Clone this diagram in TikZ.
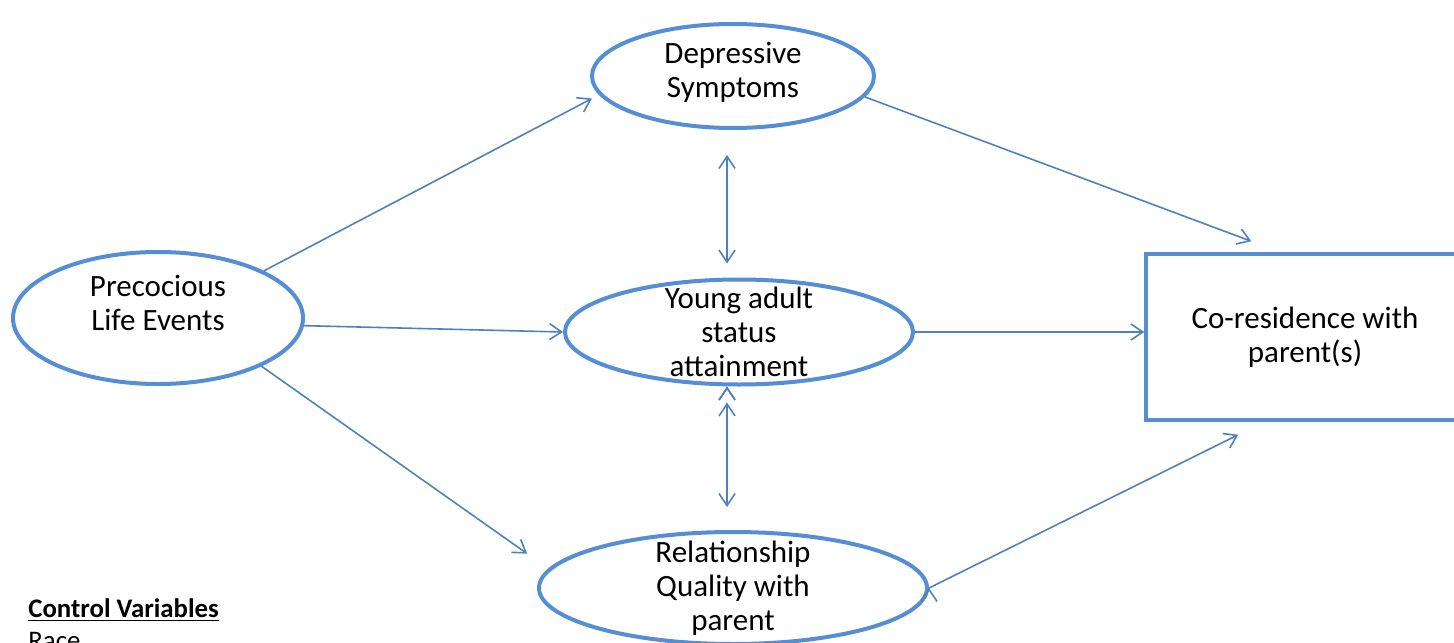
\documentclass[tikz,border=0pt]{standalone}
\usepackage{fontspec}
\setmainfont{Carlito}
\usetikzlibrary{arrows.meta,shapes.geometric,positioning}
\definecolor{ovalblue}{RGB}{85,142,213}
\definecolor{lineblue}{RGB}{79,129,189}

\begin{document}
\begin{tikzpicture}[x=0.5pt,y=-0.5pt,
	oval/.style={ellipse,draw=ovalblue,line width=2pt,inner sep=0pt},
	inner/.style={align=center,font=\fontsize{15.5}{17}\selectfont},
	conn/.style={draw=lineblue,line width=0.8pt,-{Straight Barb[length=6pt,width=8pt]}},
	both/.style={conn,{Straight Barb[length=6pt,width=8pt]}-{Straight Barb[length=6pt,width=8pt]}}]
	\useasboundingbox (0,0) rectangle (1454,642);
	\clip (0,0) rectangle (1454,642);
	% the five variables
	\node[oval,minimum width=145pt,minimum height=66pt,label={[inner,yshift=7.5pt]center:Precocious\\Life Events}] (prec) at (158,318) {};
	\node[oval,minimum width=141pt,minimum height=52pt,label={[inner,yshift=2pt]center:Depressive\\Symptoms}] (dep) at (733,76) {};
	\node[oval,minimum width=174pt,minimum height=52.5pt,label={[inner]center:Young adult\\status\\attainment}] (young) at (739,332) {};
	\node[oval,minimum width=194pt,minimum height=56pt,label={[inner]center:Relationship\\Quality with\\parent}] (rel) at (733,588) {};
	\node[draw=ovalblue,line width=1.75pt,minimum width=159pt,minimum height=83pt,inner] (co) at (1305,337) {Co-residence with\\parent(s)};
	\node[anchor=north west,align=left,inner sep=0pt,font=\fontsize{13.4}{16}\selectfont] (ctrl) at (28,598) {\underline{\textbf{Control Variables}}\\Race};
	% free ends near the box
	\coordinate (codep) at ([shift={(107,-11)}]co.north west);
	\coordinate (corel) at ([shift={(94,13)}]co.south west);
	\coordinate (midtop) at ([xshift=-3pt]rel.north |- young.south);
	% paths
	\path[conn]
		(prec.24) edge [shorten >=4pt] (dep.188)
		(prec.-3) edge (young.west)
		(prec.-25) edge [shorten >=13pt] (rel.174)
		(dep.-9) edge (codep)
		(young.east) edge (young.east -| co.west)
		(rel.east) edge (corel);
	\path[both]
		([xshift=-3pt]dep.south) edge [shorten <=12.5pt,shorten >=7pt] ([xshift=-3pt]dep.south |- young.north)
		(midtop) edge [shorten <=8pt,shorten >=11.5pt] ([xshift=-3pt]rel.north);
\end{tikzpicture}
\end{document}
